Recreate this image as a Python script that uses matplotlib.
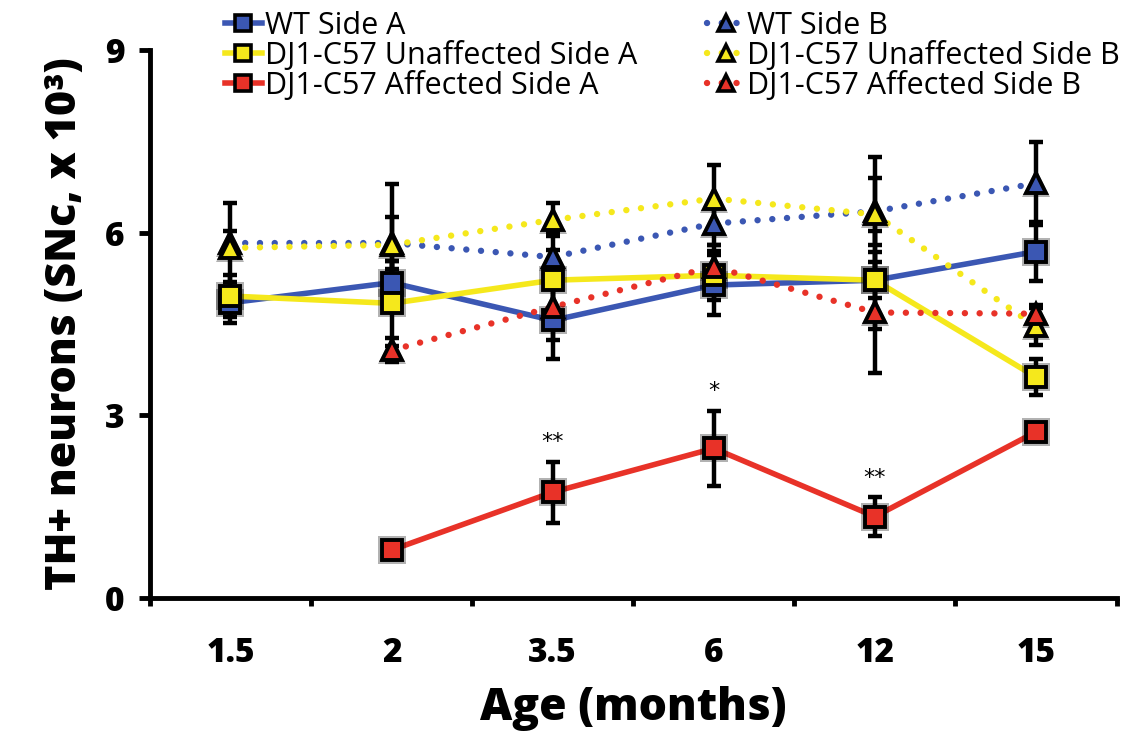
import numpy as np
import matplotlib
matplotlib.use('Agg')
import matplotlib.pyplot as plt
from matplotlib.lines import Line2D

plt.rcParams['font.family'] = ['Open Sans', 'DejaVu Sans']

# ages (categorical x axis)
ages = ['1.5', '2', '3.5', '6', '12', '15']

# series values (TH+ neurons, x 10^3)
wt_a = [4.85, 5.18, 4.56, 5.14, 5.22, 5.69]
wt_a_err = [0.34, 0.35, 0.64, 0.49, 0.30, 0.49]
unaff_a = [4.96, 4.84, 5.22, 5.30, 5.22, 3.63]
unaff_a_err = [0.34, 0.70, 0.50, 0.40, 0.80, 0.30]
aff_a = [np.nan, 0.79, 1.74, 2.46, 1.34, 2.73]
aff_a_err = [np.nan, 0.05, 0.50, 0.62, 0.32, 0.08]

wt_b = [5.83, 5.83, 5.60, 6.15, 6.35, 6.81]
wt_b_err = [0.20, 0.43, 0.40, 0.35, 0.55, 0.68]
unaff_b = [5.75, 5.80, 6.21, 6.56, 6.30, 4.46]
unaff_b_err = [0.74, 1.00, 0.27, 0.55, 0.95, 0.30]
aff_b = [np.nan, 4.07, 4.78, 5.44, 4.69, 4.67]
aff_b_err = [np.nan, 0.20, 0.54, 0.36, 1.00, 0.15]

# significance marks on the affected side A
stars = ['', '', '**', '*', '**', '']

blue = '#3b57b3'
yellow = '#f5e81c'
red = '#e83228'

series = [
    ('WT Side A', wt_a, wt_a_err, blue, 's', '-'),
    ('DJ1-C57 Unaffected Side A', unaff_a, unaff_a_err, yellow, 's', '-'),
    ('DJ1-C57 Affected Side A', aff_a, aff_a_err, red, 's', '-'),
    ('WT Side B', wt_b, wt_b_err, blue, '^', ':'),
    ('DJ1-C57 Unaffected Side B', unaff_b, unaff_b_err, yellow, '^', ':'),
    ('DJ1-C57 Affected Side B', aff_b, aff_b_err, red, '^', ':'),
]

fig = plt.figure(figsize=(11.44, 7.34), dpi=100)
ax = fig.add_axes([0.131, 0.185, 0.845, 0.747])

x = np.arange(len(ages))
dots = (0, (0.01, 2.3))

# lines first
for name, vals, err, col, mk, ls in series:
    if ls == '-':
        ax.plot(x, vals, color=col, lw=4, zorder=2)
    else:
        ax.plot(x, vals, color=col, lw=4.6, linestyle=dots, dash_capstyle='round', zorder=2)

# error bars
for name, vals, err, col, mk, ls in series:
    ax.errorbar(x, vals, yerr=err, fmt='none', ecolor='black', elinewidth=3.2,
                capsize=5, capthick=3.2, zorder=3)

# markers with a soft dark halo
handles = []
for name, vals, err, col, mk, ls in series:
    ax.plot(x, vals, linestyle='none', marker=mk, markersize=20, color='black',
            alpha=0.3, markeredgewidth=0, zorder=4)
    ax.plot(x, vals, linestyle='none', marker=mk, markersize=15, markerfacecolor=col,
            markeredgecolor='black', markeredgewidth=2.8, zorder=5)
    if ls == '-':
        h = Line2D([0], [0], color=col, lw=4)
    else:
        h = Line2D([0], [0], color=col, lw=4.6, linestyle=dots, dash_capstyle='round')
    h.set_marker(mk)
    h.set_markersize(11)
    h.set_markerfacecolor(col)
    h.set_markeredgecolor('black')
    h.set_markeredgewidth(2.6)
    handles.append(h)

for i, s in enumerate(stars):
    if s:
        ax.text(x[i], aff_a[i] + aff_a_err[i] + 0.32, s, ha='center', va='center',
                fontsize=16, family='DejaVu Sans', color='black')

ax.set_xlim(-0.5, len(ages) - 0.5)
ax.set_ylim(0, 9)
ax.set_yticks([0, 3, 6, 9])
ax.set_xticks(x)
ax.set_xticklabels(ages)
ax.set_xticks(np.arange(-0.5, len(ages), 1), minor=True)
ax.tick_params(axis='x', which='major', length=0, pad=27, labelsize=24)
ax.tick_params(axis='x', which='minor', length=6, width=3.5, direction='out')
ax.tick_params(axis='y', length=8, width=3.5, direction='out', pad=10, labelsize=24)
for lab in ax.get_xticklabels() + ax.get_yticklabels():
    lab.set_fontweight(800)

for side in ['top', 'right']:
    ax.spines[side].set_visible(False)
for side in ['left', 'bottom']:
    ax.spines[side].set_linewidth(3.5)

ax.set_xlabel('Age (months)', fontsize=32, fontweight=800, labelpad=12)
ax.set_ylabel('TH+ neurons (SNc, x 10³)', fontsize=31, fontweight=800, labelpad=14)

fig.legend(handles=handles, labels=[s[0] for s in series], ncol=2,
           loc='upper left', bbox_to_anchor=(0.178, 1.014), frameon=False,
           fontsize=22, handlelength=1.2, handletextpad=0.1, columnspacing=2.3,
           labelspacing=0.0, borderpad=0.2)

fig.savefig('out.png', dpi=100)
